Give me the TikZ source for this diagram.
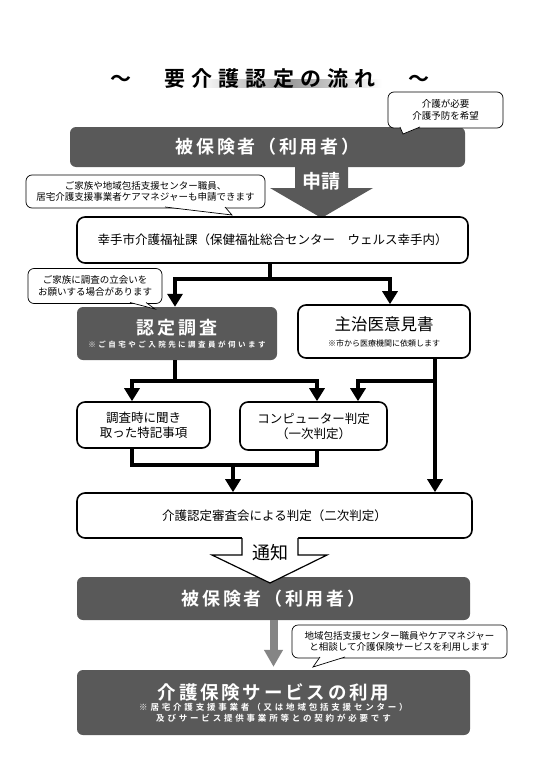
\documentclass[tikz,border=0pt]{standalone}
\usepackage{fontspec}
\setmainfont{Noto Sans CJK JP}[BoldFont={Noto Sans CJK JP Bold}]
\newfontfamily\titlefont{Noto Sans CJK JP Bold}[LetterSpace=29]
\newfontfamily\boxfont{Noto Sans CJK JP Bold}[LetterSpace=15]
\newfontfamily\notefont{Noto Sans CJK JP Bold}[LetterSpace=33]
\usepackage{xcolor}
\usetikzlibrary{arrows.meta}
\definecolor{boxgray}{HTML}{595959}
\definecolor{arrowgray}{HTML}{858585}

\begin{document}
\begin{tikzpicture}[x=1pt,y=-1pt,
	dark/.style={fill=boxgray,rounded corners=6pt,text=white,align=center,inner sep=0pt},
	plain/.style={draw,line width=1.6pt,rounded corners=8pt,fill=white,align=center,inner sep=0pt,font=\fontsize{12.5}{15}\selectfont},
	bubble/.style={draw,line width=0.7pt,rounded corners=6pt,fill=white,align=center,inner sep=0pt,font=\fontsize{9.5}{11.5}\selectfont},
	tail/.style={draw,line width=0.7pt,fill=white},
	wire/.style={line width=4.5pt},
	conn/.style={line width=4.5pt,-{Triangle[width=15pt,length=13pt]}}]
	\fill[white] (0,0) rectangle (542,768);
	\useasboundingbox (0,0) rectangle (542,768);

	\shade[left color=white,right color=white,middle color=black!40] (197,79) rectangle (382,87);
	\node[font=\fontsize{21}{24}\titlefont] (title) at (270,79) {～　要介護認定の流れ　～};

	\node[dark,minimum width=395pt,minimum height=40pt] (ins) at (267.5,147) {\fontsize{18}{20}\boxfont 被保険者（利用者）};
	\node[bubble,minimum width=115pt,minimum height=36pt] (need) at (445.5,110) {介護が必要\\介護予防を希望};
	\filldraw[tail] (400,127) -- (403,134) -- (420,127);

	\fill[boxgray] (295,167) -- (348,167) -- (348,188) -- (373,188) -- (321.5,218) -- (270,188) -- (295,188) -- cycle;
	\node[text=white,font=\fontsize{19}{21}\selectfont\bfseries] (request) at (321.5,181) {申請};

	\node[bubble,minimum width=239pt,minimum height=33pt] (proxy) at (145.5,191.5) {ご家族や地域包括支援センター職員、\\居宅介護支援事業者ケアマネジャーも申請できます};
	\filldraw[tail] (165,207) -- (232,215) -- (225,207);

	\node[plain,minimum width=391pt,minimum height=46pt] (city) at (272.5,240) {幸手市介護福祉課（保健福祉総合センター　ウェルス幸手内）};

	\node[dark,minimum width=200pt,minimum height=53pt] (survey) at (177,333.5) {{\fontsize{18}{22}\boxfont 認定調査}\\[1pt]{\fontsize{7.5}{9}\notefont ※ご自宅やご入院先に調査員が伺います}};
	\node[plain,minimum width=172pt,minimum height=53pt] (doctor) at (384,331.5) {{\fontsize{16.5}{20}\selectfont 主治医意見書}\\[1pt]{\fontsize{8}{10}\selectfont ※市から医療機関に依頼します}};

	\coordinate (fork) at (270,279);
	\draw[wire] (city.south -| fork) -- (fork);
	\draw[conn] (fork) -| ([xshift=-2pt]survey.north);
	\draw[conn] (fork) -| ([xshift=6pt]doctor.north);

	\node[bubble,minimum width=134pt,minimum height=35pt] (attend) at (95,286) {ご家族に調査の立会いを\\お願いする場合があります};
	\filldraw[tail] (130,302.5) -- (155,309) -- (146,302.5);

	\node[plain,minimum width=133pt,minimum height=46pt] (memo) at (143.5,425) {調査時に聞き\\取った特記事項};
	\node[plain,minimum width=147pt,minimum height=48pt] (comp) at (313.5,426) {コンピューター判定\\（一次判定）};
	\node[plain,minimum width=395pt,minimum height=45pt] (judge) at (274.5,515.5) {介護認定審査会による判定（二次判定）};

	\coordinate (fork2) at (175,381);
	\draw[wire] (survey.south -| fork2) -- (fork2);
	\draw[conn] (fork2) -| ([xshift=-11.5pt]memo.north);
	\draw[conn] (fork2) -| ([xshift=3.5pt]comp.north);

	\coordinate (drop) at ([xshift=51pt]doctor.south);
	\coordinate (fork3) at (435,381);
	\draw[conn] (drop) -- (drop |- judge.north);
	\draw[conn] (fork3) -| ([xshift=44.5pt]comp.north);

	\coordinate (merge) at (233,465);
	\draw[wire] ([xshift=-11.5pt]memo.south) |- (merge) -| ([xshift=3.5pt]comp.south);
	\draw[conn] (merge) -- (merge |- judge.north);

	\node[dark,minimum width=393pt,minimum height=43pt] (ins2) at (273.5,598.5) {\fontsize{18}{20}\boxfont 被保険者（利用者）};

	\fill[white] (242,536.5) -- (242,555) -- (212,555) -- (270,583) -- (327,555) -- (298,555) -- (298,536.5) -- cycle;
	\draw[line width=1.2pt] (242,538) -- (242,555) -- (212,555) -- (270,583) -- (327,555) -- (298,555) -- (298,538);
	\node[font=\fontsize{18}{20}\selectfont] (notice) at (270,553) {通知};

	\node[dark,minimum width=393pt,minimum height=65pt] (use) at (273.5,702.5) {{\fontsize{18.5}{22}\boxfont 介護保険サービスの利用}\\[-1pt]{\fontsize{8.5}{11}\notefont ※居宅介護支援事業者（又は地域包括支援センター）}\\[-1pt]{\fontsize{8.5}{11}\notefont 及びサービス提供事業所等との契約が必要です}};
	\draw[line width=8pt,arrowgray,-{Triangle[width=18pt,length=17pt]},shorten >=3pt] (ins2.south) -- (use.north);

	\node[bubble,minimum width=215pt,minimum height=33pt] (consult) at (399.5,641.5) {地域包括支援センター職員やケアマネジャー\\と相談して介護保険サービスを利用します};
	\filldraw[tail] (320,657) -- (313,667) -- (345,657);
\end{tikzpicture}
\end{document}
